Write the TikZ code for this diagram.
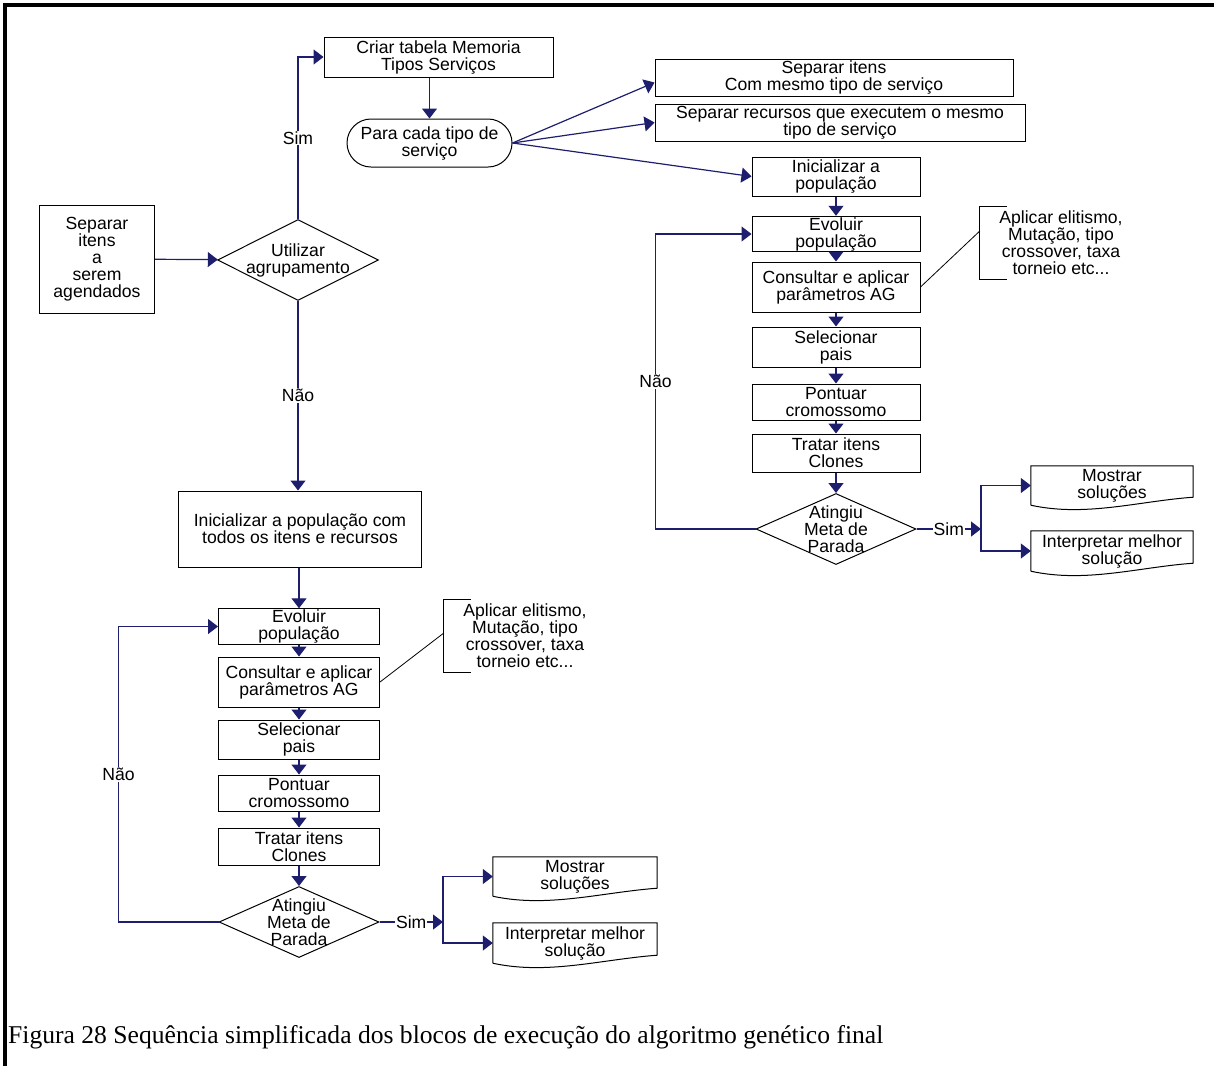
\documentclass[tikz,border=0pt]{standalone}
\usepackage{fontspec}
\setmainfont{Liberation Sans}
\newfontfamily\captionfont{Liberation Serif}
\usetikzlibrary{shapes.geometric,arrows.meta}
\definecolor{flowblue}{RGB}{30,30,110}
\begin{document}
\begin{tikzpicture}[x=1pt,y=-1pt,font=\fontsize{17.6}{17}\selectfont]
  \tikzstyle{box}=[draw, line width=1pt, inner sep=1pt, align=center]
  \tikzstyle{dec}=[draw, line width=1pt, shape=diamond, inner sep=0pt, aspect=2.2]
  \tikzstyle{doc}=[inner sep=1pt, align=center, minimum height=40pt]
  \tikzstyle{note}=[inner sep=0pt, align=center, minimum width=162pt, minimum height=72pt]
  \tikzstyle{arrow}=[flowblue, line width=1.2pt, -{Triangle[length=10pt,width=15pt]}]
  \tikzstyle{tag}=[fill=white, text=black, inner sep=1pt]
  \useasboundingbox (0,0) rectangle (1214,1066);
  \draw[line width=4pt] (5,1066) -- (5,5) -- (1214,5);

  % grouping decision
  \node[box, minimum width=115pt, minimum height=108pt] (sep) at (97,259) {Separar\\itens\\a\\serem\\agendados};
  \node[dec, minimum width=161pt, minimum height=81pt,
        label={[align=center]center:Utilizar\\agrupamento}] (agrup) at (298,260) {};
  \node[box, minimum width=229pt, minimum height=40pt] (criar) at (438.5,57) {Criar tabela Memoria\\Tipos Serviços};
  \node[box, rounded corners=24pt, minimum width=165pt, minimum height=48pt] (para) at (429.5,143) {Para cada tipo de\\serviço};
  \node[box, minimum width=358pt, minimum height=37pt] (itens) at (834,77.5) {Separar itens\\Com mesmo tipo de serviço};
  \node[box, minimum width=370pt, minimum height=37pt] (recursos) at (840,122.5) {Separar recursos que executem o mesmo\\tipo de serviço};

  % right column
  \node[box, minimum width=168pt, minimum height=39pt] (iniR) at (836,176.5) {Inicializar a\\população};
  \node[box, minimum width=168pt, minimum height=34pt] (evoR) at (836,234) {Evoluir\\população};
  \node[box, minimum width=168pt, minimum height=50pt] (consR) at (836,287) {Consultar e aplicar\\parâmetros AG};
  \node[box, minimum width=168pt, minimum height=40pt] (selR) at (836,347) {Selecionar\\pais};
  \node[box, minimum width=168pt, minimum height=36pt] (ponR) at (836,402) {Pontuar\\cromossomo};
  \node[box, minimum width=168pt, minimum height=38pt] (traR) at (836,453) {Tratar itens\\Clones};
  \node[dec, minimum width=160pt, minimum height=71pt,
        label={[align=center]center:Atingiu\\Meta de\\Parada}] (metaR) at (836,529) {};
  \node[note] (noteR) at (1061,243) {Aplicar elitismo,\\Mutação, tipo\\crossover, taxa\\torneio etc...};
  \node[doc, minimum width=162pt, minimum height=39pt] (mosR) at (1112,485.5) {Mostrar\\soluções};
  \node[doc, minimum width=162pt] (intR) at (1112,551) {Interpretar melhor\\solução};
  \coordinate (simR) at (981,529);

  % left column
  \node[box, minimum width=243pt, minimum height=76pt] (iniL) at (300,529) {Inicializar a população com\\todos os itens e recursos};
  \node[box, minimum width=161pt, minimum height=33pt] (evoL) at (299,626.5) {Evoluir\\população};
  \node[box, minimum width=161pt, minimum height=50pt] (consL) at (299,682) {Consultar e aplicar\\parâmetros AG};
  \node[box, minimum width=161pt, minimum height=39pt] (selL) at (299,739.5) {Selecionar\\pais};
  \node[box, minimum width=161pt, minimum height=36pt] (ponL) at (299,793) {Pontuar\\cromossomo};
  \node[box, minimum width=161pt, minimum height=37pt] (traL) at (299,846.5) {Tratar itens\\Clones};
  \node[dec, minimum width=160pt, minimum height=71pt,
        label={[align=center]center:Atingiu\\Meta de\\Parada}] (metaL) at (299,922) {};
  \node[note] (noteL) at (525,636) {Aplicar elitismo,\\Mutação, tipo\\crossover, taxa\\torneio etc...};
  \node[doc, minimum width=164pt, minimum height=39pt] (mosL) at (575,876.5) {Mostrar\\soluções};
  \node[doc, minimum width=164pt] (intL) at (575,943) {Interpretar melhor\\solução};
  \coordinate (simL) at (443,922);

  % wavy bottoms and brackets
  \foreach \d in {mosL,intL,mosR,intR}
    \draw[line width=1pt] (\d.south west) -- (\d.north west) -- (\d.north east) -- ([yshift=8pt]\d.south east)
      .. controls ([xshift=-55pt,yshift=4pt]\d.south east) and ([xshift=55pt,yshift=-12pt]\d.south west) .. (\d.south west);
  \foreach \n in {noteL,noteR}
    \draw[line width=1pt] ([xshift=27pt]\n.north west) -- (\n.north west) -- (\n.south west) -- ([xshift=27pt]\n.south west);
  \draw[line width=0.8pt] (consR.east) -- ([yshift=12pt]noteR.west);
  \draw[line width=0.8pt] (consL.east) -- ([yshift=3pt]noteL.west);

  % connectors
  \draw[arrow] (sep) -- (agrup);
  \draw[arrow] (agrup.north) |- node[tag, pos=0.25] {Sim} (criar.west);
  \draw[arrow] (para.north |- criar.south) -- (para.north);
  \draw[arrow] (para.east) -- ([yshift=-5pt]itens.west);
  \draw[arrow] (para.east) -- (recursos.west);
  \draw[arrow] (para.east) -- (iniR.west);
  \foreach \a/\b in {iniR/evoR, evoR/consR, consR/selR, selR/ponR, ponR/traR, traR/metaR}
    \draw[arrow] (\a) -- (\b);
  \draw[arrow] (metaR.west) -- ++(-100,0) |- node[tag, pos=0.25] {Não} (evoR.west);
  \draw[arrow] (metaR.east) -- node[tag] {Sim} (simR);
  \draw[arrow] (simR) |- (mosR.west);
  \draw[arrow] (simR) |- (intR.west);

  \draw[arrow] (agrup.south) -- node[tag] {Não} (agrup.south |- iniL.north);
  \draw[arrow] (iniL.south -| evoL.north) -- (evoL.north);
  \foreach \a/\b in {evoL/consL, consL/selL, selL/ponL, ponL/traL, traL/metaL}
    \draw[arrow] (\a) -- (\b);
  \draw[arrow] (metaL.west) -- ++(-100,0) |- node[tag, pos=0.25] {Não} (evoL.west);
  \draw[arrow] (metaL.east) -- node[tag] {Sim} (simL);
  \draw[arrow] (simL) |- (mosL.west);
  \draw[arrow] (simL) |- (intL.west);

  \node[anchor=west, inner sep=0pt, font=\captionfont\fontsize{25.6}{25}\selectfont] (caption) at (8,1037)
    {Figura 28 Sequência simplificada dos blocos de execução do algoritmo genético final};
\end{tikzpicture}
\end{document}
